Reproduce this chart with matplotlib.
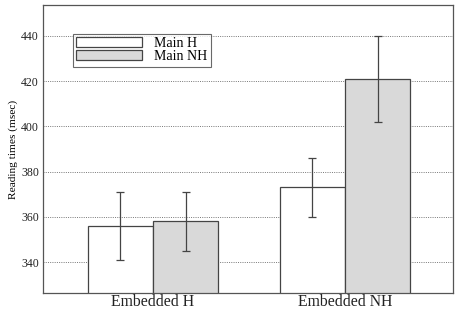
import matplotlib
matplotlib.use("Agg")
import matplotlib.pyplot as plt
import numpy as np

# condition means and error bar half-widths (msec)
groups = ["Embedded H", "Embedded NH"]
series = ["Main H", "Main NH"]
means_main_h = [356, 373]
means_main_nh = [358, 421]
err_main_h = [15, 13]
err_main_nh = [13, 19]

plt.rcParams["font.family"] = "Liberation Serif"

fig = plt.figure(figsize=(4.59, 3.13), dpi=100)
ax = fig.add_axes([43 / 459, 20 / 313, 410 / 459, 288 / 313])

x = np.arange(len(groups))
w = 0.341
edge = "#444444"

ax.bar(x - w / 2, means_main_h, w, color="white", edgecolor=edge, linewidth=0.9,
       label=series[0], zorder=2)
ax.bar(x + w / 2, means_main_nh, w, color="#d9d9d9", edgecolor=edge, linewidth=0.9,
       label=series[1], zorder=2)
ax.errorbar(x - w / 2, means_main_h, yerr=err_main_h, fmt="none", ecolor=edge,
            elinewidth=0.9, capsize=3, capthick=0.9, zorder=3)
ax.errorbar(x + w / 2, means_main_nh, yerr=err_main_nh, fmt="none", ecolor=edge,
            elinewidth=0.9, capsize=3, capthick=0.9, zorder=3)

ax.set_xlim(-0.573, 1.5625)
ax.set_ylim(326.3, 453.7)
ax.set_yticks([340, 360, 380, 400, 420, 440])
ax.set_xticks(x)
ax.set_xticklabels(groups, fontsize=11.3)
ax.tick_params(axis="both", length=0, colors="#222222")
ax.tick_params(axis="y", labelsize=8.5, pad=3)
ax.tick_params(axis="x", pad=1)
ax.yaxis.grid(True, linestyle=(0, (1, 1.3)), color="#777777", linewidth=0.7, zorder=0)
ax.set_axisbelow(True)
ax.set_ylabel("Reading times (msec)", fontsize=8.2, labelpad=2)

for s in ax.spines.values():
    s.set_color("#555555")
    s.set_linewidth(0.9)

leg = ax.legend(loc="upper left", bbox_to_anchor=(0.0725, 0.9), fontsize=10,
                frameon=True, fancybox=False, edgecolor="#444444",
                handlelength=4.75, handleheight=0.72, handletextpad=0.85,
                borderpad=0.25, labelspacing=0.0, borderaxespad=0)
leg.get_frame().set_linewidth(0.8)

fig.savefig("out.png", dpi=100)
